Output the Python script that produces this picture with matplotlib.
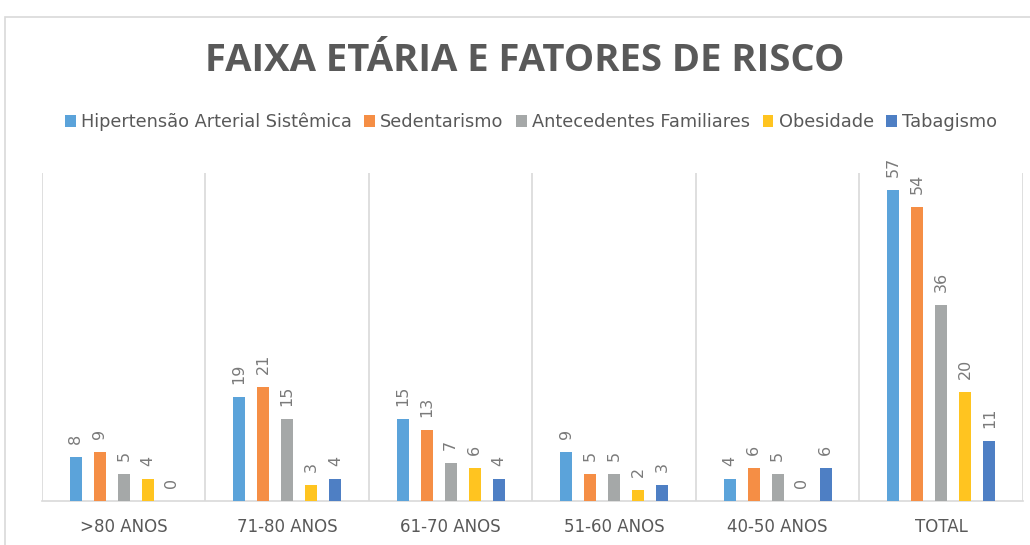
import numpy as np
import matplotlib.pyplot as plt
from matplotlib.patches import Rectangle

# Data
grupos = [">80 ANOS", "71-80 ANOS", "61-70 ANOS", "51-60 ANOS", "40-50 ANOS", "TOTAL"]
series = ["Hipertensão Arterial Sistêmica", "Sedentarismo", "Antecedentes Familiares",
          "Obesidade", "Tabagismo"]
hipertensao = [8, 19, 15, 9, 4, 57]
sedentarismo = [9, 21, 13, 5, 6, 54]
antecedentes = [5, 15, 7, 5, 5, 36]
obesidade = [4, 3, 6, 2, 0, 20]
tabagismo = [0, 4, 4, 3, 6, 11]
cores = ["#5BA3DA", "#F58E45", "#A5A8A8", "#FFC420", "#4E7FC4"]

valores = [hipertensao, sedentarismo, antecedentes, obesidade, tabagismo]
texto = "#595959"
linha = "#D9D9D9"

fig = plt.figure(figsize=(10.3, 5.45), dpi=100)
# chart frame (cut off at right/bottom like the screenshot)
fig.patches.append(Rectangle((5 / 1030, -0.1), 1.1, 1 - 17 / 545 + 0.1,
                             transform=fig.transFigure, fill=False,
                             edgecolor=linha, linewidth=1.2))

ax = fig.add_axes([42 / 1030, 1 - 501 / 545, (1023 - 42) / 1030, 328 / 545])
x = np.arange(len(grupos))
w = 0.074
passo = 0.147
for i, (nome, vals) in enumerate(zip(series, valores)):
    pos = x + (i - 2) * passo
    ax.bar(pos, vals, width=w, color=cores[i], label=nome, zorder=3)
    for p, v in zip(pos, vals):
        ax.text(p, v + 2.4, str(v), rotation=90, ha="center", va="bottom",
                fontsize=11.5, color="#7A7A7A")

ax.set_xlim(-0.5, len(grupos) - 0.5)
ax.set_ylim(0, 60.2)
ax.set_yticks([])
ax.set_xticks(x)
ax.set_xticklabels(grupos, fontsize=12, color=texto)
ax.tick_params(axis="x", length=0, pad=12)
ax.set_xticks(np.arange(-0.5, len(grupos)), minor=True)
ax.tick_params(axis="x", which="minor", length=0)
ax.grid(True, axis="x", which="minor", color=linha, linewidth=1.2, zorder=0)
for s in ["top", "right", "left"]:
    ax.spines[s].set_visible(False)
ax.spines["bottom"].set_color(linha)
ax.spines["bottom"].set_linewidth(1.2)

fig.text(525 / 1030, 1 - 61 / 545, "FAIXA ETÁRIA E FATORES DE RISCO", ha="center",
         va="center", fontsize=27.5, fontweight="bold", color=texto, family="Open Sans")
fig.legend(loc="center", bbox_to_anchor=(531 / 1030, 1 - 122 / 545), ncol=5,
           frameon=False, fontsize=12.8, handlelength=0.6, handleheight=0.6,
           handletextpad=0.3, columnspacing=0.7, labelcolor=texto)

fig.savefig("out.png", dpi=100)
